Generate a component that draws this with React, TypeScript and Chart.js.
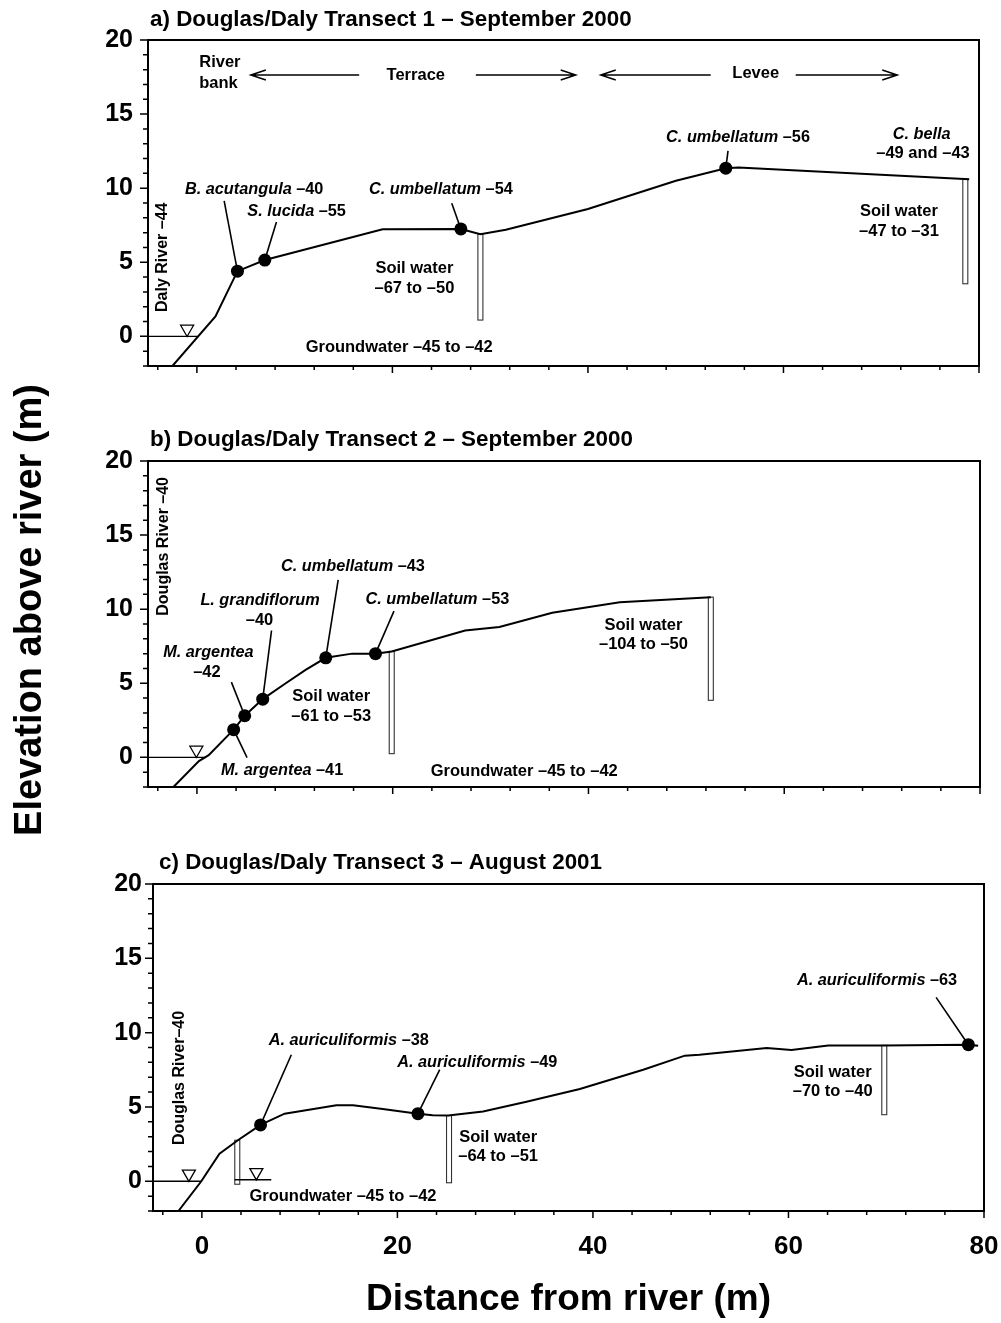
import React, { useEffect, useRef } from 'react';
import { Chart, registerables } from 'chart.js';

Chart.register(...registerables);

const FONT = '"Liberation Sans", Arial, Helvetica, sans-serif';
const W = 1001;
const H = 1323;

// ---- shared axes ----
const X_MIN = -5;
const X_MAX = 80;
const Y_MIN = -2;
const Y_MAX = 20;
const X_TICK_LABELS = [0, 20, 40, 60, 80];
const Y_TICK_LABELS = [0, 5, 10, 15, 20];

// ---- panel a: Transect 1 ----
const A_GROUND_X = [-2.5, 1.9, 4.15, 6.95, 19.0, 27.0, 29.0, 31.6, 40.0, 49.0, 54.1, 55.4, 79.0];
const A_GROUND_Y = [-2.0, 1.35, 4.4, 5.15, 7.23, 7.25, 6.9, 7.2, 8.6, 10.5, 11.35, 11.4, 10.6];
const A_TREE_X = [4.15, 6.95, 27.0, 54.1];
const A_TREE_Y = [4.4, 5.15, 7.25, 11.35];
const A_TUBE_X = [29.0, 78.6];
const A_TUBE_TOP = [6.9, 10.6];
const A_TUBE_BOTTOM = [1.1, 3.55];
const A_WATER_X1 = [-5];
const A_WATER_X2 = [0.1];
const A_WATER_Y = [0];
const A_TRI_X = [-1.0];
const A_TRI_Y = [0.5];

// ---- panel b: Transect 2 ----
const B_GROUND_X = [-2.4, 0.2, 1.2, 3.75, 4.88, 6.72, 9.0, 11.1, 13.16, 15.85, 18.24, 19.9, 27.4, 30.9, 36.3, 43.2, 52.5];
const B_GROUND_Y = [-2.0, -0.25, 0.15, 1.87, 2.81, 3.93, 4.97, 5.9, 6.72, 7.0, 7.0, 7.15, 8.56, 8.8, 9.76, 10.47, 10.81];
const B_TREE_X = [3.75, 4.88, 6.72, 13.16, 18.24];
const B_TREE_Y = [1.87, 2.81, 3.93, 6.72, 7.0];
const B_TUBE_X = [19.9, 52.5];
const B_TUBE_TOP = [7.15, 10.81];
const B_TUBE_BOTTOM = [0.25, 3.85];
const B_WATER_X1 = [-5];
const B_WATER_X2 = [0.85];
const B_WATER_Y = [0];
const B_TRI_X = [-0.06];
const B_TRI_Y = [0.5];

// ---- panel c: Transect 3 ----
const C_GROUND_X = [-2.4, -0.06, 1.8, 3.68, 6.0, 8.46, 13.76, 15.46, 18.5, 22.1, 23.6, 25.2, 28.76, 33.2, 38.66, 45.14, 49.4, 50.9, 57.77, 60.3, 64.07, 69.7, 78.4, 79.4];
const C_GROUND_Y = [-2.0, 0.0, 1.86, 2.76, 3.79, 4.55, 5.11, 5.11, 4.86, 4.55, 4.44, 4.42, 4.7, 5.35, 6.21, 7.5, 8.45, 8.51, 8.96, 8.83, 9.14, 9.14, 9.19, 9.12];
const C_TREE_X = [6.0, 22.1, 78.4];
const C_TREE_Y = [3.79, 4.55, 9.19];
const C_TUBE_X = [3.62, 25.28, 69.8];
const C_TUBE_TOP = [2.76, 4.42, 9.14];
const C_TUBE_BOTTOM = [-0.2, -0.1, 4.48];
const C_WATER_X1 = [-5, 3.35];
const C_WATER_X2 = [0.0, 7.1];
const C_WATER_Y = [0, 0.1];
const C_TRI_X = [-1.33, 5.57];
const C_TRI_Y = [0.5, 0.6];

type Seg = [string, boolean];
type Rich = { x: number; y: number; segs: Seg[] };
type Plain = { x: number; y: number; text: string; align?: CanvasTextAlign; size?: number };
type Leader = [number, number, number, number];
type Arrow = { x1: number; x2: number; y: number; head: 'left' | 'right' };

const A_RICH: Rich[] = [
  { x: 5.86, y: 9.93, segs: [['B. acutangula', true], [' –40', false]] },
  { x: 10.2, y: 8.45, segs: [['S. lucida', true], [' –55', false]] },
  { x: 24.95, y: 9.89, segs: [['C. umbellatum', true], [' –54', false]] },
  { x: 55.35, y: 13.43, segs: [['C. umbellatum', true], [' –56', false]] },
  { x: 74.13, y: 13.65, segs: [['C. bella', true]] },
];
const A_PLAIN: Plain[] = [
  { x: 74.27, y: 12.34, text: '–49 and –43' },
  { x: 22.25, y: 4.57, text: 'Soil water' },
  { x: 22.25, y: 3.22, text: '–67 to –50' },
  { x: 71.81, y: 8.43, text: 'Soil water' },
  { x: 71.81, y: 7.07, text: '–47 to –31' },
  { x: 20.69, y: -0.72, text: 'Groundwater –45 to –42' },
  { x: 22.39, y: 17.64, text: 'Terrace' },
  { x: 57.16, y: 17.77, text: 'Levee' },
  { x: 0.24, y: 18.51, text: 'River', align: 'left' },
  { x: 0.24, y: 17.09, text: 'bank', align: 'left' },
];
const A_VERTICAL: Plain[] = [{ x: -3.52, y: 5.34, text: 'Daly River –44' }];
const A_LEADERS: Leader[] = [
  [2.79, 9.14, 4.15, 4.4],
  [8.14, 7.72, 6.95, 5.15],
  [26.07, 8.99, 27.0, 7.25],
  [54.33, 12.52, 54.1, 11.35],
];
const A_ARROWS: Arrow[] = [
  { x1: 5.52, x2: 16.6, y: 17.64, head: 'left' },
  { x1: 28.53, x2: 38.75, y: 17.64, head: 'right' },
  { x1: 41.31, x2: 52.56, y: 17.64, head: 'left' },
  { x1: 61.25, x2: 71.64, y: 17.64, head: 'right' },
];

const B_RICH: Rich[] = [
  { x: 15.94, y: 12.9, segs: [['C. umbellatum', true], [' –43', false]] },
  { x: 6.45, y: 10.59, segs: [['L. grandiflorum', true]] },
  { x: 24.56, y: 10.63, segs: [['C. umbellatum', true], [' –53', false]] },
  { x: 1.17, y: 7.06, segs: [['M. argentea', true]] },
  { x: 8.7, y: -0.92, segs: [['M. argentea', true], [' –41', false]] },
];
const B_PLAIN: Plain[] = [
  { x: 6.39, y: 9.24, text: '–40' },
  { x: 1.02, y: 5.71, text: '–42' },
  { x: 13.72, y: 4.11, text: 'Soil water' },
  { x: 13.72, y: 2.78, text: '–61 to –53' },
  { x: 33.44, y: -0.94, text: 'Groundwater –45 to –42' },
  { x: 45.62, y: 8.9, text: 'Soil water' },
  { x: 45.62, y: 7.6, text: '–104 to –50' },
];
const B_VERTICAL: Plain[] = [{ x: -3.41, y: 14.24, text: 'Douglas River –40' }];
const B_LEADERS: Leader[] = [
  [14.43, 11.98, 13.16, 6.72],
  [7.62, 8.56, 6.72, 3.93],
  [20.13, 9.87, 18.24, 7.0],
  [3.52, 5.08, 4.88, 2.81],
  [5.12, -0.02, 3.75, 1.87],
];

const C_RICH: Rich[] = [
  { x: 15.02, y: 9.48, segs: [['A. auriculiformis', true], [' –38', false]] },
  { x: 28.17, y: 7.98, segs: [['A. auriculiformis', true], [' –49', false]] },
  { x: 69.06, y: 13.49, segs: [['A. auriculiformis', true], [' –63', false]] },
];
const C_PLAIN: Plain[] = [
  { x: 30.3, y: 2.98, text: 'Soil water' },
  { x: 30.3, y: 1.68, text: '–64 to –51' },
  { x: 14.43, y: -1.05, text: 'Groundwater –45 to –42' },
  { x: 64.52, y: 7.35, text: 'Soil water' },
  { x: 64.52, y: 6.01, text: '–70 to –40' },
];
const C_VERTICAL: Plain[] = [{ x: -2.28, y: 6.95, text: 'Douglas River–40' }];
const C_LEADERS: Leader[] = [
  [9.15, 8.51, 6.0, 3.79],
  [24.33, 7.51, 22.1, 4.55],
  [75.1, 12.37, 78.4, 9.19],
];

type Panel = {
  key: string;
  title: string;
  titleX: number;
  titleY: number;
  left: number;
  right: number;
  top: number;
  bottom: number;
  xAxisH: number;
  yPad: number;
  showX: boolean;
  groundX: number[];
  groundY: number[];
  treeX: number[];
  treeY: number[];
  tubeX: number[];
  tubeTop: number[];
  tubeBottom: number[];
  waterX1: number[];
  waterX2: number[];
  waterY: number[];
  triX: number[];
  triY: number[];
  rich: Rich[];
  plain: Plain[];
  vertical: Plain[];
  leaders: Leader[];
  arrows: Arrow[];
  yTitle: boolean;
};

const PANELS: Panel[] = [
  {
    key: 'a', title: 'a) Douglas/Daly Transect 1 – September 2000', titleX: 150, titleY: 20,
    left: 148, right: 979, top: 40, bottom: 366, xAxisH: 10, yPad: 15, showX: false,
    groundX: A_GROUND_X, groundY: A_GROUND_Y, treeX: A_TREE_X, treeY: A_TREE_Y,
    tubeX: A_TUBE_X, tubeTop: A_TUBE_TOP, tubeBottom: A_TUBE_BOTTOM,
    waterX1: A_WATER_X1, waterX2: A_WATER_X2, waterY: A_WATER_Y, triX: A_TRI_X, triY: A_TRI_Y,
    rich: A_RICH, plain: A_PLAIN, vertical: A_VERTICAL, leaders: A_LEADERS, arrows: A_ARROWS, yTitle: false,
  },
  {
    key: 'b', title: 'b) Douglas/Daly Transect 2 – September 2000', titleX: 150, titleY: 440,
    left: 148, right: 980, top: 461, bottom: 787, xAxisH: 10, yPad: 15, showX: false,
    groundX: B_GROUND_X, groundY: B_GROUND_Y, treeX: B_TREE_X, treeY: B_TREE_Y,
    tubeX: B_TUBE_X, tubeTop: B_TUBE_TOP, tubeBottom: B_TUBE_BOTTOM,
    waterX1: B_WATER_X1, waterX2: B_WATER_X2, waterY: B_WATER_Y, triX: B_TRI_X, triY: B_TRI_Y,
    rich: B_RICH, plain: B_PLAIN, vertical: B_VERTICAL, leaders: B_LEADERS, arrows: [], yTitle: true,
  },
  {
    key: 'c', title: 'c) Douglas/Daly Transect 3 – August 2001', titleX: 159, titleY: 863,
    left: 153, right: 984, top: 884, bottom: 1211, xAxisH: 112, yPad: 11, showX: true,
    groundX: C_GROUND_X, groundY: C_GROUND_Y, treeX: C_TREE_X, treeY: C_TREE_Y,
    tubeX: C_TUBE_X, tubeTop: C_TUBE_TOP, tubeBottom: C_TUBE_BOTTOM,
    waterX1: C_WATER_X1, waterX2: C_WATER_X2, waterY: C_WATER_Y, triX: C_TRI_X, triY: C_TRI_Y,
    rich: C_RICH, plain: C_PLAIN, vertical: C_VERTICAL, leaders: C_LEADERS, arrows: [], yTitle: false,
  },
];

const LABEL_SIZE = 16.5;
const SPECIES_SIZE = 16.3;

function makePlugin(p: Panel) {
  return {
    id: 'panelDecor_' + p.key,
    beforeDatasetsDraw(chart: any) {
      const ctx: CanvasRenderingContext2D = chart.ctx;
      const xs = chart.scales.x;
      const ys = chart.scales.y;
      ctx.save();
      // soil-water sampling tubes
      p.tubeX.forEach((tx, i) => {
        const cx = xs.getPixelForValue(tx);
        const t = ys.getPixelForValue(p.tubeTop[i]);
        const b = ys.getPixelForValue(p.tubeBottom[i]);
        ctx.fillStyle = '#fff';
        ctx.strokeStyle = '#333';
        ctx.lineWidth = 1.1;
        ctx.fillRect(cx - 2.5, t, 5, b - t);
        ctx.strokeRect(cx - 2.5, t, 5, b - t);
      });
      // leader lines
      ctx.strokeStyle = '#000';
      ctx.lineWidth = 1.6;
      p.leaders.forEach(([x1, y1, x2, y2]) => {
        ctx.beginPath();
        ctx.moveTo(xs.getPixelForValue(x1), ys.getPixelForValue(y1));
        ctx.lineTo(xs.getPixelForValue(x2), ys.getPixelForValue(y2));
        ctx.stroke();
      });
      ctx.restore();
    },
    afterDatasetsDraw(chart: any) {
      const ctx: CanvasRenderingContext2D = chart.ctx;
      const xs = chart.scales.x;
      const ys = chart.scales.y;
      ctx.save();
      ctx.fillStyle = '#000';
      ctx.textBaseline = 'middle';
      // plain labels
      p.plain.forEach((l) => {
        ctx.font = `bold ${l.size || LABEL_SIZE}px ${FONT}`;
        ctx.textAlign = l.align || 'center';
        ctx.fillText(l.text, xs.getPixelForValue(l.x), ys.getPixelForValue(l.y));
      });
      // species labels (italic name + upright value)
      p.rich.forEach((r) => {
        const fonts = r.segs.map(([, it]) => `${it ? 'italic ' : ''}bold ${SPECIES_SIZE}px ${FONT}`);
        let total = 0;
        const widths = r.segs.map(([t], i) => {
          ctx.font = fonts[i];
          const w = ctx.measureText(t).width;
          total += w;
          return w;
        });
        let x = xs.getPixelForValue(r.x) - total / 2;
        const y = ys.getPixelForValue(r.y);
        ctx.textAlign = 'left';
        r.segs.forEach(([t], i) => {
          ctx.font = fonts[i];
          ctx.fillText(t, x, y);
          x += widths[i];
        });
      });
      // vertical river labels
      p.vertical.forEach((l) => {
        ctx.save();
        ctx.translate(xs.getPixelForValue(l.x), ys.getPixelForValue(l.y));
        ctx.rotate(-Math.PI / 2);
        ctx.font = `bold 16px ${FONT}`;
        ctx.textAlign = 'center';
        ctx.fillText(l.text, 0, 0);
        ctx.restore();
      });
      // zone arrows
      ctx.strokeStyle = '#000';
      ctx.lineWidth = 1.5;
      p.arrows.forEach((a) => {
        const x1 = xs.getPixelForValue(a.x1);
        const x2 = xs.getPixelForValue(a.x2);
        const y = ys.getPixelForValue(a.y);
        ctx.beginPath();
        ctx.moveTo(x1, y);
        ctx.lineTo(x2, y);
        const tip = a.head === 'left' ? x1 : x2;
        const dir = a.head === 'left' ? 1 : -1;
        ctx.moveTo(tip + dir * 15, y - 5);
        ctx.lineTo(tip, y);
        ctx.lineTo(tip + dir * 15, y + 5);
        ctx.stroke();
      });
      ctx.restore();
    },
    afterDraw(chart: any) {
      const ctx: CanvasRenderingContext2D = chart.ctx;
      const { left, right, top, bottom } = chart.chartArea;
      const xs = chart.scales.x;
      const ys = chart.scales.y;
      ctx.save();
      ctx.strokeStyle = '#000';
      ctx.lineWidth = 2;
      ctx.strokeRect(left, top, right - left, bottom - top);
      ctx.lineWidth = 1.5;
      ctx.beginPath();
      for (let v = -4; v <= X_MAX; v += 4) {
        const px = xs.getPixelForValue(v);
        const len = v % 20 === 0 ? 7 : 4;
        ctx.moveTo(px, bottom);
        ctx.lineTo(px, bottom + len);
      }
      for (let v = Y_MIN; v <= Y_MAX; v += 1) {
        const py = ys.getPixelForValue(v);
        const len = v % 5 === 0 ? 8 : 5;
        ctx.moveTo(left, py);
        ctx.lineTo(left - len, py);
      }
      ctx.stroke();
      // panel title
      ctx.fillStyle = '#000';
      ctx.font = `bold 22.4px ${FONT}`;
      ctx.textAlign = 'left';
      ctx.textBaseline = 'middle';
      ctx.fillText(p.title, p.titleX, p.titleY);
      if (p.yTitle) {
        ctx.save();
        ctx.translate(31, 610);
        ctx.rotate(-Math.PI / 2);
        ctx.font = `bold 38px ${FONT}`;
        ctx.textAlign = 'center';
        ctx.fillText('Elevation above river (m)', 0, 0);
        ctx.restore();
      }
      ctx.restore();
    },
  };
}

function buildChart(canvas: HTMLCanvasElement, p: Panel) {
  const pts = (xs: number[], ys: number[]) => xs.map((x, i) => ({ x, y: ys[i] }));
  const datasets: any[] = [
    {
      type: 'scatter', label: 'trees', data: pts(p.treeX, p.treeY), pointStyle: 'circle', pointRadius: 6.5,
      backgroundColor: '#000', borderColor: '#000', borderWidth: 0, order: 0,
    },
    {
      type: 'scatter', label: 'water level', data: pts(p.triX, p.triY), pointStyle: 'triangle', rotation: 180,
      pointRadius: 7.5, backgroundColor: '#fff', borderColor: '#000', borderWidth: 1.3, order: 1,
    },
    ...p.waterX1.map((x1, i) => ({
      type: 'line', label: 'water ' + i, data: [{ x: x1, y: p.waterY[i] }, { x: p.waterX2[i], y: p.waterY[i] }],
      borderColor: '#000', borderWidth: 1.4, pointRadius: 0, fill: false, order: 2,
    })),
    {
      type: 'line', label: 'ground', data: pts(p.groundX, p.groundY), borderColor: '#000', borderWidth: 2,
      pointRadius: 0, fill: false, tension: 0, order: 3,
    },
  ];
  return new Chart(canvas, {
    type: 'scatter',
    data: { datasets },
    options: {
      animation: false,
      responsive: false,
      maintainAspectRatio: false,
      devicePixelRatio: 1,
      events: [],
      layout: { padding: { top: p.top, left: 0, right: W - p.right, bottom: H - p.bottom - p.xAxisH } },
      plugins: { legend: { display: false }, tooltip: { enabled: false }, title: { display: false } },
      scales: {
        x: {
          type: 'linear', position: 'bottom', min: X_MIN, max: X_MAX,
          grid: { display: false, drawTicks: false }, border: { display: false },
          ticks: {
            display: p.showX, padding: 20, color: '#000', maxRotation: 0, autoSkip: false,
            font: { family: FONT, size: 26, weight: 'bold' },
          },
          afterBuildTicks: (s: any) => { s.ticks = X_TICK_LABELS.map((v) => ({ value: v })); },
          afterFit: (s: any) => {
            s.height = p.xAxisH;
            s.paddingLeft = 0;
            s.paddingRight = 0;
          },
          title: {
            display: p.showX, text: 'Distance from river (m)', color: '#000',
            font: { family: FONT, size: 37, weight: 'bold' }, padding: { top: 0, bottom: 1 },
          },
        },
        y: {
          type: 'linear', position: 'left', min: Y_MIN, max: Y_MAX,
          grid: { display: false, drawTicks: false }, border: { display: false },
          ticks: { padding: p.yPad, color: '#000', font: { family: FONT, size: 25, weight: 'bold' } },
          afterBuildTicks: (s: any) => { s.ticks = Y_TICK_LABELS.map((v) => ({ value: v })); },
          afterFit: (s: any) => { s.width = p.left; },
        },
      },
    } as any,
    plugins: [makePlugin(p)],
  } as any);
}

export default function App() {
  const r0 = useRef<HTMLCanvasElement>(null);
  const r1 = useRef<HTMLCanvasElement>(null);
  const r2 = useRef<HTMLCanvasElement>(null);
  const refs = [r0, r1, r2];
  useEffect(() => {
    const charts = PANELS.map((p, i) => buildChart(refs[i].current as HTMLCanvasElement, p));
    return () => charts.forEach((c) => c.destroy());
  }, []);
  return (
    <div style={{ position: 'absolute', left: 0, top: 0, width: W, height: H, background: '#fff' }}>
      {PANELS.map((p, i) => (
        <canvas
          key={p.key}
          ref={refs[i]}
          width={W}
          height={H}
          style={{ position: 'absolute', left: 0, top: 0, width: W, height: H }}
        />
      ))}
    </div>
  );
}
